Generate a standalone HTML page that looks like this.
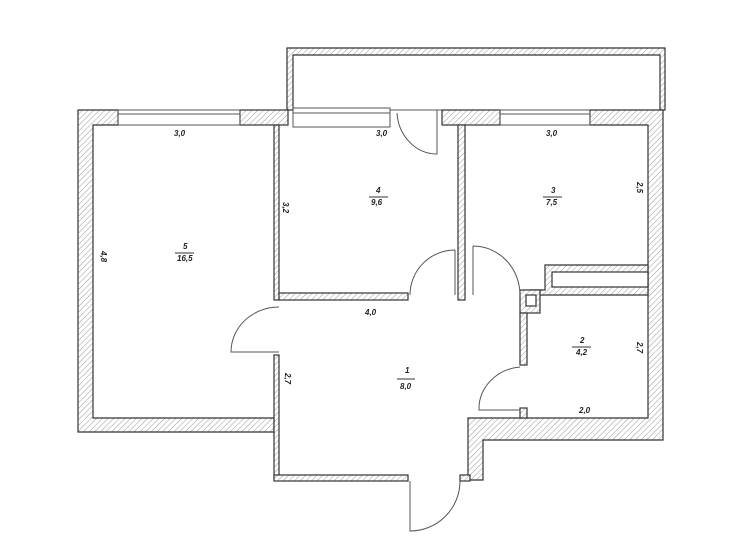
<!DOCTYPE html>
<html><head><meta charset="utf-8"><style>
html,body{margin:0;padding:0;background:#fff}
svg{display:block}
text{font-family:"Liberation Sans",sans-serif;font-size:8px;font-style:italic;font-weight:bold;fill:#222}
</style></head><body>
<svg width="741" height="551" viewBox="0 0 741 551" xmlns="http://www.w3.org/2000/svg">
<defs>
<pattern id="h" width="4" height="4" patternUnits="userSpaceOnUse" patternTransform="rotate(45)">
<rect width="4" height="4" fill="#fff"/><line x1="0" y1="0" x2="0" y2="4" stroke="#999" stroke-width="1"/>
</pattern>
</defs>
<g stroke="#333" stroke-width="1.2" fill="url(#h)">
<!-- balcony -->
<path d="M287 48 H665 V110 H660 V55 H293 V110 H287 Z"/>
<!-- left outer wall + room5 top -->
<path d="M78 110 H118 V125 H93 V418 H274 V432 H78 Z"/>
<rect x="240" y="110" width="48" height="15"/>
<!-- partition 5/4 -->
<rect x="274" y="125" width="5" height="175"/>
<rect x="274" y="355" width="5" height="125"/>
<!-- room4 bottom -->
<rect x="279" y="293" width="129" height="7"/>
<!-- partition 4/3 -->
<rect x="442" y="110" width="58" height="15"/>
<rect x="458" y="125" width="7" height="175"/>
<!-- room3 right + top right -->
<path d="M590 110 H663 V440 H483 V480 H468 V418 H648 V125 H590 Z"/>
<!-- duct strip -->
<path d="M545 265 H648 V295 H530 V290 H545 Z"/>
<rect x="552" y="272" width="96" height="15" fill="#fff"/>
<rect x="520" y="290" width="20" height="23"/>
<rect x="526" y="295" width="10" height="11" fill="#fff"/>
<rect x="520" y="313" width="7" height="52"/>
<rect x="520" y="408" width="7" height="10"/>
<!-- corridor bottom -->
<rect x="274" y="475" width="134" height="6"/>
<rect x="460" y="475" width="10" height="6"/>
</g>
<!-- windows -->
<g stroke="#555" stroke-width="1" fill="none">
<rect x="118" y="110" width="122" height="15"/><line x1="118" y1="114" x2="240" y2="114"/>
<rect x="293" y="108" width="97" height="19"/><line x1="293" y1="113" x2="390" y2="113"/>
<rect x="500" y="110" width="90" height="15"/><line x1="500" y1="114" x2="590" y2="114"/>
<line x1="390" y1="110" x2="442" y2="110"/>
</g>
<!-- doors -->
<g stroke="#555" stroke-width="1" fill="none">
<path d="M437 110 V154 A40 44 0 0 1 397 113"/>
<path d="M455 250 V295 M455 250 A45 45 0 0 0 410 295"/>
<path d="M473 246 V295 M473 246 A47 49 0 0 1 520 295"/>
<path d="M279 307 A48 45 0 0 0 231 352 H279"/>
<path d="M520 367 A45 42 0 0 0 479 410 H520"/>
<path d="M410 481 V531 A50 50 0 0 0 460 481"/>
</g>
<g>
<text x="174" y="136">3,0</text>
<text x="376" y="136">3,0</text>
<text x="546" y="136">3,0</text>
<text x="376" y="193">4</text><line x1="369" y1="197" x2="388" y2="197" stroke="#333"/><text x="371" y="205">9,6</text>
<text x="183" y="249">5</text><line x1="175" y1="253" x2="194" y2="253" stroke="#333"/><text x="177" y="261">16,5</text>
<text x="551" y="193">3</text><line x1="543" y1="197" x2="562" y2="197" stroke="#333"/><text x="546" y="205">7,5</text>
<text x="365" y="315">4,0</text>
<text x="580" y="343">2</text><line x1="572" y1="347" x2="591" y2="347" stroke="#333"/><text x="576" y="355">4,2</text>
<text x="405" y="373">1</text><line x1="397" y1="379" x2="415" y2="379" stroke="#333"/><text x="400" y="389">8,0</text>
<text x="579" y="413">2,0</text>
<text transform="translate(101,251) rotate(90)">4,8</text>
<text transform="translate(283,202) rotate(90)">3,2</text>
<text transform="translate(637,182) rotate(90)">2,5</text>
<text transform="translate(637,342) rotate(90)">2,7</text>
<text transform="translate(285,373) rotate(90)">2,7</text>
</g>
</svg>
</body></html>
